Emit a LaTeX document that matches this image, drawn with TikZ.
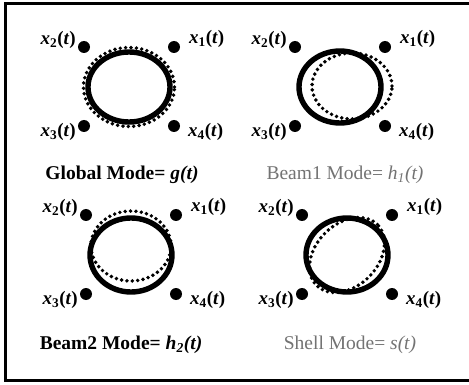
\documentclass[tikz,border=0pt]{standalone}
\usepackage{fontspec}
\setmainfont{Liberation Serif}
\begin{document}
\begin{tikzpicture}[x=1pt,y=-1pt]
\tikzset{
  frameline/.style={line width=3pt},
  ring/.style={line width=5.4pt},
  dotring/.style={line width=3.9pt, line cap=round, dash pattern=on 0pt off 5.4pt},
  sensor/.style={circle, fill=black, inner sep=0pt, minimum size=12pt},
  lbl/.style={font=\fontsize{19}{19}\selectfont\bfseries, inner sep=0pt},
  modebold/.style={font=\fontsize{19.5}{19.5}\selectfont\bfseries, inner sep=0pt},
  modefaint/.style={font=\fontsize{19.5}{19.5}\selectfont, text=black!55, inner sep=0pt},
}
% four sensors x1..x4 around a panel centre, with their labels
\newcommand\sensorset[1]{%
  \node[sensor] (#1s2) at (-45,-40) {};
  \node[sensor] (#1s1) at (45,-40) {};
  \node[sensor] (#1s3) at (-45,39) {};
  \node[sensor] (#1s4) at (45,39) {};
  \node[lbl, anchor=south east] (#1l2) at (-53,-38) {\textit{x}\textsubscript{2}(\textit{t})};
  \node[lbl, anchor=south west] (#1l1) at (60,-39) {\textit{x}\textsubscript{1}(\textit{t})};
  \node[lbl, anchor=north east] (#1l3) at (-53,36) {\textit{x}\textsubscript{3}(\textit{t})};
  \node[lbl, anchor=north west] (#1l4) at (59,36) {\textit{x}\textsubscript{4}(\textit{t})};
}
\useasboundingbox (0,0) rectangle (469,385);
\fill[white] (0,0) rectangle (469,385);
\draw[frameline] (469,4) -- (5,4) -- (5,380) -- (469,380);

% global mode
\begin{scope}[shift={(129,87)}]
  \draw[ring] (0,0) ellipse [x radius=41pt, y radius=35pt];
  \draw[dotring] (0,0) ellipse [x radius=45.5pt, y radius=39.5pt];
  \sensorset{g}
  \node[modebold] (gmode) at (-7,88) {Global Mode= \textit{g(t)}};
\end{scope}

% beam 1 mode
\begin{scope}[shift={(340,87)}]
  \draw[ring] (0,0) ellipse [x radius=41pt, y radius=36pt];
  \draw[dotring] (12,-1) ellipse [x radius=40pt, y radius=33pt];
  \sensorset{a}
  \node[modefaint] (amode) at (5,88) {Beam1 Mode= \textit{h\textsubscript{1}(t)}};
\end{scope}

% beam 2 mode
\begin{scope}[shift={(131,255)}]
  \draw[ring] (0,0) ellipse [x radius=41pt, y radius=37pt];
  \draw[dotring] (0,-9) ellipse [x radius=40pt, y radius=35pt];
  \sensorset{b}
  \node[modebold] (bmode) at (-10,90) {Beam2 Mode= \textit{h\textsubscript{2}(t)}};
\end{scope}

% shell mode
\begin{scope}[shift={(347,255)}]
  \draw[ring] (0,0) ellipse [x radius=41pt, y radius=37pt];
  \draw[dotring, rotate=45] (0,0) ellipse [x radius=43pt, y radius=31pt];
  \sensorset{c}
  \node[modefaint] (cmode) at (3,90) {Shell Mode= \textit{s(t)}};
\end{scope}
\end{tikzpicture}
\end{document}
